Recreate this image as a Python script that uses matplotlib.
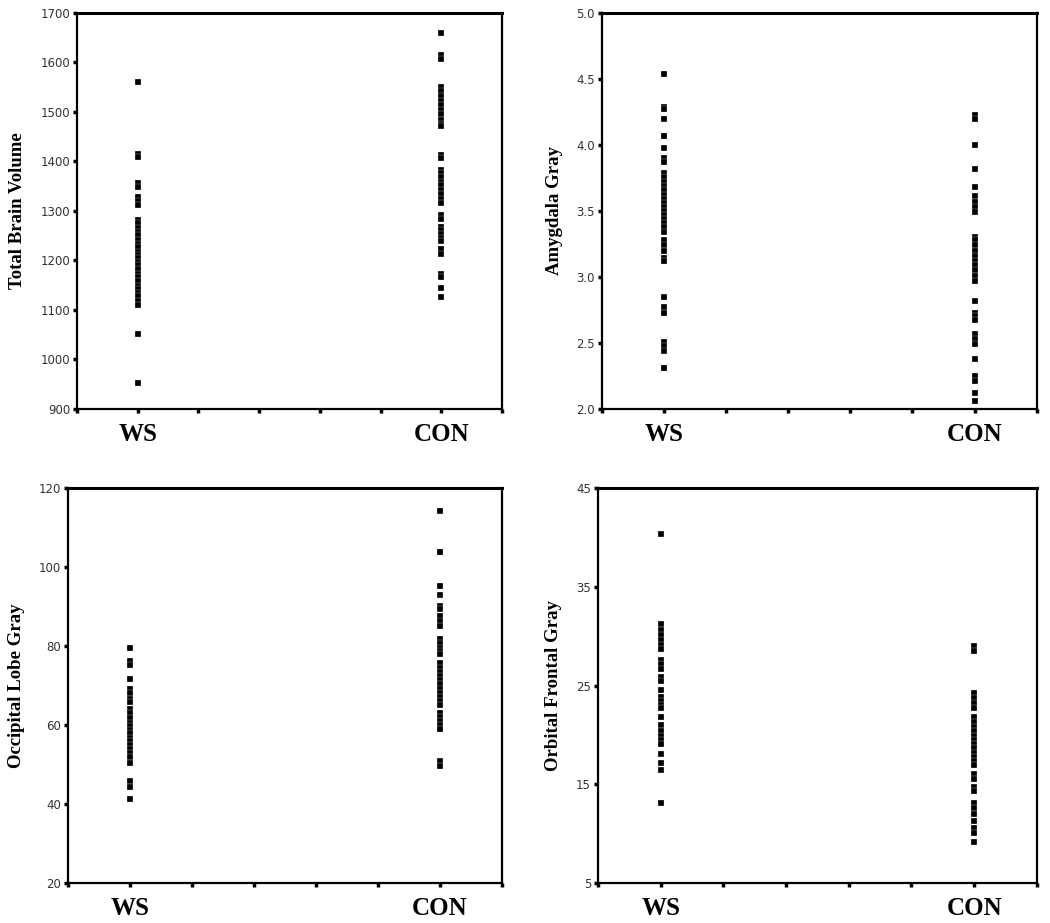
import matplotlib.pyplot as plt
import numpy as np

# group positions on the x axis and their labels
groups = ['WS', 'CON']
group_pos = [0, 5]

# Total brain volume
tbv_ws = [1560, 1415, 1409, 1357, 1349, 1328, 1320, 1312,
          1281, 1275, 1265, 1258, 1251, 1241, 1234, 1227, 1217, 1210, 1204,
          1197, 1190, 1182, 1173, 1166, 1159, 1149, 1142, 1135, 1128, 1118, 1110,
          1052, 952]
tbv_con = [1659, 1615, 1606,
           1551, 1542, 1532, 1522, 1513, 1503, 1495, 1484, 1476, 1471,
           1413, 1406, 1383, 1376, 1369, 1359, 1352, 1342, 1335, 1325, 1315,
           1291, 1284, 1267, 1261, 1254, 1246, 1240, 1223, 1213,
           1173, 1167, 1145, 1126]

# Amygdala gray
amy_ws = [4.54, 4.29, 4.27, 4.20, 4.07, 3.98, 3.90, 3.87,
          3.79, 3.76, 3.72, 3.69, 3.66, 3.62, 3.59, 3.56, 3.53, 3.50, 3.47, 3.44,
          3.41, 3.38, 3.34, 3.28, 3.24, 3.20, 3.14, 3.12,
          2.85, 2.77, 2.73, 2.51, 2.48, 2.44, 2.31]
amy_con = [4.23, 4.20, 4.00, 3.82, 3.68, 3.61, 3.57, 3.53, 3.49,
           3.30, 3.28, 3.24, 3.20, 3.16, 3.12, 3.09, 3.05, 3.01, 2.97,
           2.82, 2.73, 2.70, 2.67, 2.57, 2.53, 2.49, 2.38, 2.25, 2.21, 2.12, 2.06]

# Occipital lobe gray
occ_ws = [79.6, 76.2, 75.1, 71.6, 69.0, 68.2, 66.5, 65.7,
          64.0, 63.0, 61.9, 60.6, 59.8, 58.8, 57.9, 56.8, 56.0, 54.9, 53.9,
          52.9, 51.8, 50.5, 45.9, 44.2, 41.2]
occ_con = [114.1, 103.7, 95.3, 92.8, 90.1, 89.4, 87.6, 86.3, 85.0,
           81.7, 80.8, 79.6, 78.7, 77.9,
           75.6, 74.5, 73.4, 72.4, 71.4, 70.3, 69.2, 68.2, 67.2, 66.1, 65.0,
           63.1, 62.1, 61.0, 60.0, 58.9, 50.9, 49.7]

# Orbital frontal gray
orb_ws = [40.3, 31.2, 30.6, 30.1, 29.6, 29.1, 28.7, 27.6, 27.2, 26.7,
          25.9, 25.5, 24.5, 23.8, 23.4, 23.0, 22.7, 21.8, 21.0, 20.4,
          19.9, 19.5, 19.1, 18.1, 17.2, 16.4, 13.1]
orb_con = [29.0, 28.5, 24.2, 23.7, 23.2, 22.7, 21.8, 21.3, 20.8, 20.4,
           19.9, 19.5, 19.1, 18.7, 18.2, 17.8, 17.4, 17.0, 16.0, 15.5,
           14.7, 14.3, 13.1, 12.6, 12.0, 11.3, 10.6, 10.1, 9.2]

panels = [
    # ws, con, ylabel, yticks, tick format, axes rect
    (tbv_ws, tbv_con, 'Total Brain Volume', np.arange(900, 1701, 100), '{:.0f}',
     [0.0733, 0.557, 0.405, 0.429]),
    (amy_ws, amy_con, 'Amygdala Gray', np.arange(2.0, 5.01, 0.5), '{:.1f}',
     [0.5733, 0.557, 0.414, 0.429]),
    (occ_ws, occ_con, 'Occipital Lobe Gray', np.arange(20, 121, 20), '{:.0f}',
     [0.0648, 0.0433, 0.413, 0.428]),
    (orb_ws, orb_con, 'Orbital Frontal Gray', np.arange(5, 46, 10), '{:.0f}',
     [0.5695, 0.0433, 0.418, 0.428]),
]

fig = plt.figure(figsize=(10.5, 9.23), dpi=100)

for ws, con, ylab, yt, fmt, rect in panels:
    ax = fig.add_axes(rect)
    for pos, vals in zip(group_pos, [ws, con]):
        ax.plot([pos] * len(vals), vals, 's', color='black', markersize=3.8,
                markeredgecolor='white', markeredgewidth=0.2, linestyle='none')
    ax.set_xlim(-1, 6)
    ax.set_ylim(yt[0], yt[-1])
    ax.set_yticks(yt)
    ax.set_yticklabels([fmt.format(v) for v in yt], fontsize=8.5, color='#333333')
    ax.set_xticks(range(-1, 7))
    ax.set_xticklabels(['', 'WS', '', '', '', '', 'CON', ''],
                       fontsize=18, fontweight='bold', family='Liberation Serif')
    ax.tick_params(axis='both', direction='out', length=3, width=2.5, color='black')
    ax.tick_params(axis='x', pad=7)
    ax.tick_params(axis='y', pad=2)
    ax.set_ylabel(ylab, fontsize=13.5, fontweight='bold', family='Liberation Serif',
                  labelpad=10)
    for sp in ax.spines.values():
        sp.set_linewidth(1.6)
    ax.spines['top'].set_linewidth(2.2)

fig.savefig('out.png', dpi=100)
